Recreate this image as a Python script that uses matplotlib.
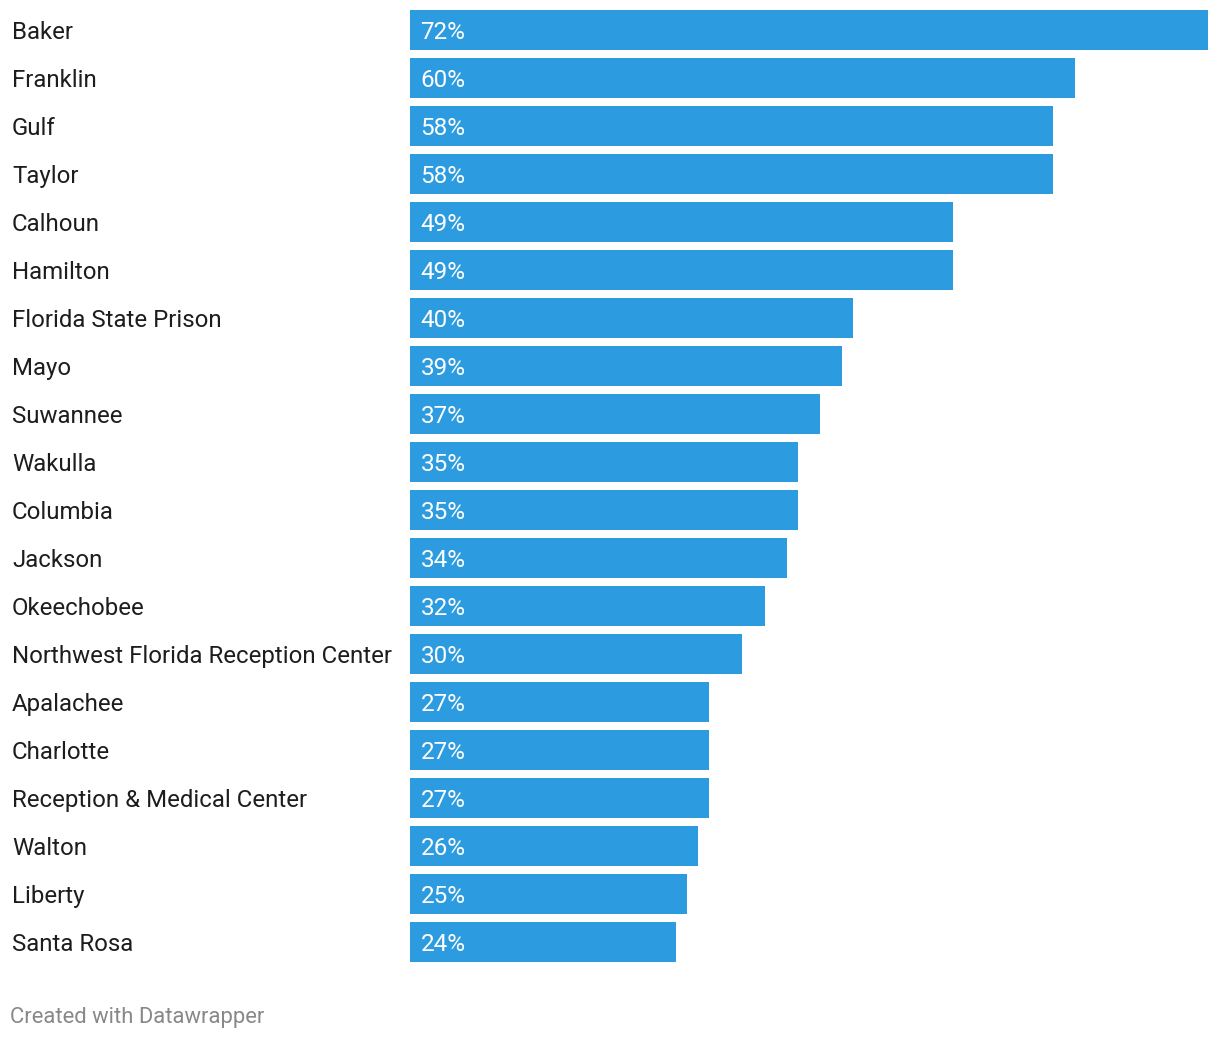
import matplotlib
matplotlib.use('Agg')
import matplotlib.pyplot as plt
import matplotlib.transforms as mtransforms

plt.rcParams['font.family'] = ['Roboto', 'DejaVu Sans']

names = ['Baker', 'Franklin', 'Gulf', 'Taylor', 'Calhoun', 'Hamilton',
         'Florida State Prison', 'Mayo', 'Suwannee', 'Wakulla', 'Columbia',
         'Jackson', 'Okeechobee', 'Northwest Florida Reception Center',
         'Apalachee', 'Charlotte', 'Reception & Medical Center', 'Walton',
         'Liberty', 'Santa Rosa']
values = [72, 60, 58, 58, 49, 49, 40, 39, 37, 35, 35, 34, 32, 30, 27, 27, 27, 26, 25, 24]

W, H = 1220, 1038
fig = plt.figure(figsize=(W / 100, H / 100), dpi=100)

h = 40 / 48
ax = fig.add_axes([410 / W, 1 - 962 / H, 798 / W, 952 / H])
ypos = list(range(len(names)))
ax.barh(ypos, values, height=h, color='#2d9be0')
ax.set_xlim(0, max(values))
ax.set_ylim(len(names) - 1 + h / 2, -h / 2)
ax.axis('off')

# x in figure coords, y in data coords
trans = mtransforms.blended_transform_factory(fig.transFigure, ax.transData)

for y, name, v in zip(ypos, names, values):
    ax.text(0.95, y, f'{v}%', color='white', fontsize=17.5,
            va='center_baseline', ha='left')
    ax.text(12 / W, y, name, transform=trans, fontsize=17.3,
            color='#1d1d1d', va='center_baseline', ha='left')

fig.text(10 / W, 1 - 1015 / H, 'Created with Datawrapper', fontsize=15.8,
         color='#888888', va='center_baseline', ha='left')

fig.savefig('out.png', dpi=100)
